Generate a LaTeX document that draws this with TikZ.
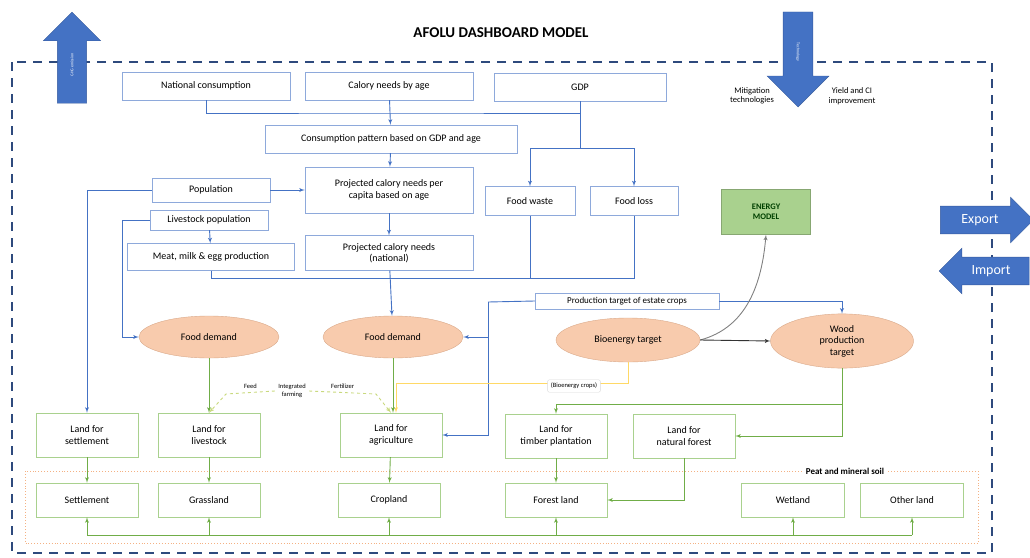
\documentclass[tikz,border=0pt]{standalone}
\usepackage{fontspec}
\setmainfont{Carlito}
\usepackage{tikz}
\usetikzlibrary{shapes, arrows}
\definecolor{boxblue}{HTML}{8EA9DB}
\definecolor{lineblue}{HTML}{4472C4}
\definecolor{landgreen}{HTML}{A9D18E}
\definecolor{linegreen}{HTML}{70AD47}
\definecolor{peach}{HTML}{F8CBAD}
\definecolor{peachdraw}{HTML}{D9A98A}
\definecolor{energygreen}{HTML}{A9D18E}
\definecolor{cropyellow}{HTML}{FFD966}
\definecolor{peatorange}{HTML}{F4B183}
\definecolor{frameblue}{HTML}{2E4A7D}
\definecolor{farmline}{HTML}{C9D97E}
\newcommand{\boxfont}{\fontsize{10}{11.5}\selectfont}
\newcommand{\tinyfont}{\fontsize{6.5}{7.5}\selectfont}
\tikzstyle{bbox} = [rectangle, draw=boxblue, fill=white, align=center, font=\boxfont, minimum height=28pt]
\tikzstyle{lbox} = [rectangle, draw=landgreen, fill=white, align=center, font=\boxfont, minimum width=102pt, minimum height=44pt]
\tikzstyle{ubox} = [rectangle, draw=landgreen, fill=white, align=center, font=\boxfont, minimum width=102pt, minimum height=34pt]
\tikzstyle{target} = [ellipse, draw=peachdraw, fill=peach, align=center, font=\boxfont, minimum width=140pt, minimum height=42pt]
\tikzstyle{blockarrow} = [single arrow, fill=lineblue, draw=lineblue!80!black, text=white, single arrow head indent=0pt]
\tikzstyle{line} = [draw, -latex', line width=0.9pt]
\tikzstyle{bline} = [line, lineblue]
\tikzstyle{gline} = [line, linegreen]
\tikzstyle{yline} = [line, cropyellow]
\tikzstyle{fline} = [line, farmline, dashed]

\begin{document}
\begin{tikzpicture}[x=1pt, y=-1pt]
    \useasboundingbox (0,0) rectangle (1030,557);

    % frame and title
    \draw[frameblue, line width=2.5pt, dash pattern=on 9pt off 7pt] (12,62) rectangle (992,553);
    \node[font=\fontsize{15}{17}\selectfont\bfseries] (title) at (501,33) {AFOLU DASHBOARD MODEL};

    % peat and mineral soil
    \draw[peatorange, dotted, line width=0.9pt] (25,471) rectangle (978,543);
    \node[fill=white, font=\fontsize{9}{10}\selectfont\bfseries] (peat) at (845,471) {Peat and mineral soil};

    % consumption side
    \node[bbox, minimum width=168pt] (natcons) at (206,86) {National consumption};
    \node[bbox, minimum width=168pt] (calage) at (389,86) {Calory needs by age};
    \node[bbox, minimum width=172pt] (gdp) at (580,87) {GDP};
    \node[bbox, minimum width=252pt] (conspat) at (391,139) {Consumption pattern based on GDP and age};
    \node[bbox, minimum width=168pt, minimum height=46pt] (percap) at (389,190) {Projected calory needs per\\capita based on age};
    \node[bbox, minimum width=118pt, minimum height=24pt] (pop) at (211,190) {Population};
    \node[bbox, minimum width=118pt, minimum height=20pt] (livepop) at (209,220) {Livestock population};
    \node[bbox, minimum width=167pt, minimum height=27pt] (meat) at (211,257) {Meat, milk \& egg production};
    \node[bbox, minimum width=168pt, minimum height=35pt] (national) at (389,253) {Projected calory needs\\(national)};
    \node[bbox, minimum width=90pt, minimum height=29pt] (waste) at (530,201) {Food waste};
    \node[bbox, minimum width=88pt, minimum height=29pt] (loss) at (634,201) {Food loss};
    \node[rectangle, draw=landgreen!80!black, fill=energygreen, align=center, minimum width=89pt, minimum height=45pt,
          font=\fontsize{8.5}{10}\selectfont\bfseries, text=green!25!black] (energy) at (766,212) {ENERGY\\MODEL};
    \node[bbox, minimum width=184pt, minimum height=16pt, font=\fontsize{9}{10}\selectfont] (prodtarget) at (627,301) {Production target of estate crops};

    % targets
    \node[target] (fd1) at (209,337) {Food demand};
    \node[target] (fd2) at (393,337) {Food demand};
    \node[target, minimum width=144pt, minimum height=44pt] (bio) at (628,340) {Bioenergy target};
    \node[target, minimum width=143pt, minimum height=46pt] (wood) at (842,341) {Wood\\production\\target};

    % land demand
    \node[lbox] (lset) at (87,435) {Land for\\settlement};
    \node[lbox] (llive) at (209,435) {Land for\\livestock};
    \node[lbox] (lagri) at (391,435) {Land for\\agriculture};
    \node[lbox] (ltimb) at (556,436) {Land for\\timber plantation};
    \node[lbox] (lnat) at (684,436) {Land for\\natural forest};

    % land use categories
    \node[ubox] (sett) at (87,500) {Settlement};
    \node[ubox] (grass) at (209,500) {Grassland};
    \node[ubox] (crop) at (389,500) {Cropland};
    \node[ubox] (forest) at (556,500) {Forest land};
    \node[ubox, minimum width=103pt] (wet) at (793,500) {Wetland};
    \node[ubox, minimum width=103pt] (other) at (912,500) {Other land};

    % outside arrows
    \node[blockarrow, rotate=90, minimum height=91pt, inner ysep=13pt, single arrow head extend=14pt,
          font=\fontsize{4}{5}\selectfont] (ghg) at (72,65) {GHG emission};
    \node[blockarrow, rotate=-90, minimum height=95pt, inner ysep=13pt, single arrow head extend=16pt,
          font=\fontsize{4}{5}\selectfont] (techin) at (798,52) {Technology};
    \node[font=\fontsize{8.5}{9.5}\selectfont, align=center] (mitig) at (752,96) {Mitigation\\technologies};
    \node[font=\fontsize{8.5}{9.5}\selectfont, align=center] (yield) at (852,96) {Yield and CI\\improvement};
    \node[blockarrow, minimum height=93pt, inner ysep=8pt, single arrow head extend=9pt,
          font=\fontsize{14}{16}\selectfont] (export) at (980,220) {Export};
    \node[blockarrow, shape border rotate=180, minimum height=90pt, inner ysep=8pt, single arrow head extend=9pt,
          font=\fontsize{14}{16}\selectfont] (import) at (991,271) {Import};

    % blue connectors
    \coordinate (jtop) at (389,113);
    \coordinate (jgdp) at (580,148);
    \coordinate (jmid) at (389,278);
    \coordinate (lvbend) at (122,337);
    \coordinate (ptl) at (488,302);
    \coordinate (ptfd) at (488,337);
    \draw[lineblue, line width=0.9pt] (natcons.south) |- (jtop) -| (gdp.south);
    \path[bline] (calage) -- (conspat);
    \draw[lineblue, line width=0.9pt] (gdp.south) -- (jgdp);
    \path[bline] (jgdp) -| (waste.north);
    \path[bline] (jgdp) -| (loss.north);
    \path[bline] (conspat) -- (percap);
    \path[bline] (pop) -- (percap);
    \path[bline] (percap) -- (national);
    \path[bline] (livepop) -- (meat);
    \path[bline] (national) -- (fd2);
    \draw[lineblue, line width=0.9pt] (meat.south) |- (jmid);
    \draw[lineblue, line width=0.9pt] (loss.south) |- (jmid);
    \draw[lineblue, line width=0.9pt] (waste.south) -- (waste.south |- jmid);
    \path[bline] (pop.west) -| (lset.north);
    \path[bline] (livepop.west) -| (lvbend) -- (fd1.west);
    \draw[lineblue, line width=0.9pt] (prodtarget.west) -- (ptl);
    \path[bline] (ptl) |- (lagri.east);
    \path[bline] (ptfd) -- (fd2.east);
    \path[bline] (prodtarget.east) -| (wood.north);

    % bioenergy links
    \path[line, gray] (bio.east) to[out=15, in=-95] (energy.south);
    \path[line, black!80] (bio.east) -- (wood.west);
    \coordinate (yjoin) at (396,383);
    \path[yline] (bio.south) |- (yjoin) -- (yjoin |- lagri.north);
    \node[draw=black!15, fill=white, rounded corners=2pt, font=\tinyfont] (biolabel) at (574,386) {(Bioenergy crops)};

    % green connectors
    \path[gline] (fd1) -- (llive);
    \path[gline] (fd2.south) -- (lagri.north -| fd2.south);
    \coordinate (wjoin) at (842,404);
    \path[gline] (wood.south) |- (lnat.east);
    \path[gline] (wjoin) -| (ltimb.north);
    \node[font=\tinyfont, align=center] (ifarm) at (292,391) {Integrated\\farming};
    \path[fline] (ifarm.west) -- node[above, font=\tinyfont, text=black] {Feed} (226,394) -- (llive.north);
    \path[fline] (ifarm.east) -- node[above, font=\tinyfont, text=black] {Fertilizer} (376,394) -- (lagri.north);

    \path[gline] (lset) -- (sett);
    \path[gline] (llive) -- (grass);
    \path[gline] (lagri) -- (crop);
    \path[gline] (ltimb) -- (forest);
    \path[gline] (lnat.south) |- (forest.east);
    \coordinate (gl) at (87,535);
    \coordinate (gr) at (912,535);
    \draw[linegreen, line width=0.9pt] (gl) -- (gr);
    \foreach \n in {sett, grass, crop, forest, wet, other}
        \path[gline] (\n.south |- gl) -- (\n.south);
\end{tikzpicture}
\end{document}
